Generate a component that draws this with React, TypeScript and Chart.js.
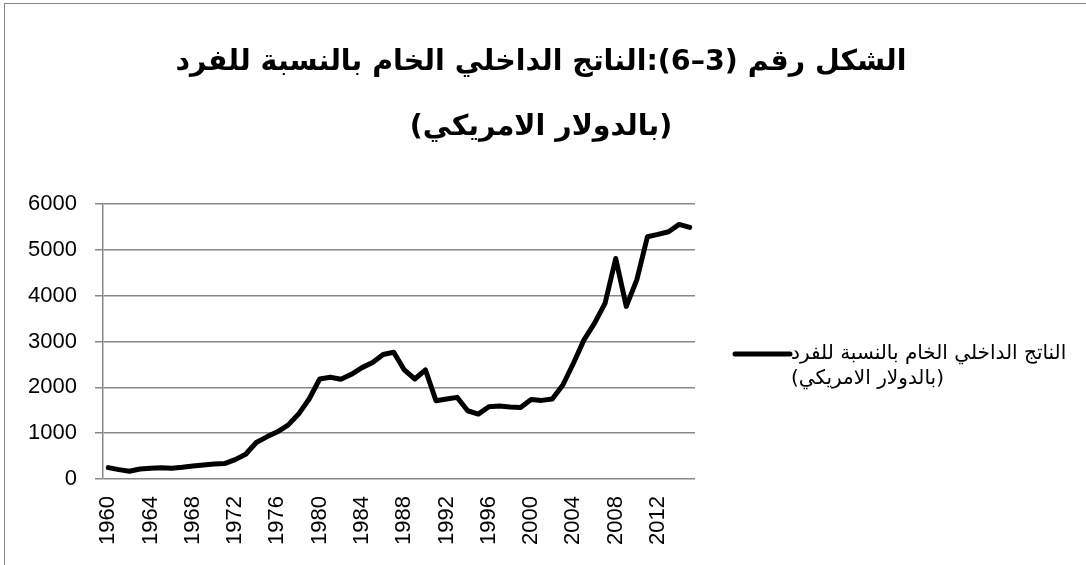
import React, { useEffect, useRef } from "react";
import { Chart, registerables } from "chart.js";

Chart.register(...registerables);

const titleLines: string[] = [
  "الشكل رقم (3–6):الناتج الداخلي الخام بالنسبة للفرد",
  "(بالدولار الامريكي)",
];
const seriesLabelLines: string[] = [
  "الناتج الداخلي الخام بالنسبة للفرد",
  "(بالدولار الامريكي)",
];
const years: string[] = [
  "1960", "1961", "1962", "1963", "1964", "1965", "1966", "1967", "1968", "1969",
  "1970", "1971", "1972", "1973", "1974", "1975", "1976", "1977", "1978", "1979",
  "1980", "1981", "1982", "1983", "1984", "1985", "1986", "1987", "1988", "1989",
  "1990", "1991", "1992", "1993", "1994", "1995", "1996", "1997", "1998", "1999",
  "2000", "2001", "2002", "2003", "2004", "2005", "2006", "2007", "2008", "2009",
  "2010", "2011", "2012", "2013", "2014", "2015",
];
const gdpPerCapita: number[] = [
  248, 204, 168, 219, 234, 248, 234, 255, 285, 307,
  328, 336, 423, 540, 796, 920, 1029, 1175, 1416, 1745,
  2182, 2219, 2175, 2285, 2430, 2540, 2715, 2766, 2380, 2182,
  2380, 1708, 1745, 1781, 1489, 1416, 1577, 1591, 1569, 1562,
  1737, 1715, 1745, 2051, 2526, 3036, 3401, 3839, 4810, 3766,
  4350, 5285, 5336, 5394, 5555, 5489,
];
const yTicks: number[] = [0, 1000, 2000, 3000, 4000, 5000, 6000];
const xLabelEvery = 4;

const titlePlugin = {
  id: "fullTitle",
  afterDraw(chart: any) {
    const ctx = chart.ctx;
    ctx.save();
    ctx.fillStyle = "#000";
    ctx.font = "bold 28.5px 'DejaVu Sans'";
    ctx.textAlign = "center";
    ctx.textBaseline = "middle";
    titleLines.forEach((t, i) => ctx.fillText(t, 541, 63 + i * 65));
    ctx.restore();
  },
};

const legendPlugin = {
  id: "sideLegend",
  afterDraw(chart: any) {
    const ctx = chart.ctx;
    const ds = chart.data.datasets[0];
    const area = chart.chartArea;
    const x0 = area.right + 40;
    const x1 = x0 + 55;
    const y = 354;
    ctx.save();
    ctx.strokeStyle = ds.borderColor;
    ctx.lineWidth = ds.borderWidth;
    ctx.lineCap = "round";
    ctx.beginPath();
    ctx.moveTo(x0, y);
    ctx.lineTo(x1, y);
    ctx.stroke();
    ctx.fillStyle = "#000";
    ctx.font = "20px 'DejaVu Sans'";
    ctx.textAlign = "left";
    ctx.textBaseline = "middle";
    const lines: string[] = ds.labelLines;
    lines.forEach((t, i) => ctx.fillText(t, x1 + 1, y + i * 25));
    ctx.restore();
  },
};

export default function App() {
  const ref = useRef<HTMLCanvasElement | null>(null);
  useEffect(() => {
    if (!ref.current) return;
    const chart = new Chart(ref.current, {
      type: "line",
      data: {
        labels: years,
        datasets: [
          {
            label: seriesLabelLines.join(" "),
            labelLines: seriesLabelLines,
            data: gdpPerCapita,
            borderColor: "#000000",
            borderWidth: 5,
            borderJoinStyle: "round",
            borderCapStyle: "round",
            pointRadius: 0,
            tension: 0,
            fill: false,
          } as any,
        ],
      },
      options: {
        animation: false,
        responsive: false,
        layout: { padding: { left: 0, right: 391, top: 204, bottom: 0 } },
        plugins: {
          legend: { display: false },
          tooltip: { enabled: false },
          title: { display: false },
        },
        scales: {
          x: {
            type: "category",
            offset: true,
            grid: { display: false, drawTicks: false },
            border: { display: false },
            ticks: {
              autoSkip: false,
              maxRotation: 90,
              minRotation: 90,
              padding: 17,
              color: "#000",
              font: { family: "'Liberation Sans'", size: 22 },
              callback: (_v: any, i: number) => (i % xLabelEvery === 0 ? years[i] : ""),
            },
            afterFit: (s: any) => {
              s.height = 86;
            },
          },
          y: {
            min: 0,
            max: 6000,
            afterBuildTicks: (s: any) => {
              s.ticks = yTicks.map((v) => ({ value: v }));
            },
            grid: { color: "#888888", lineWidth: 1.5, tickLength: 8 },
            border: { display: true, color: "#888888", width: 1.5 },
            ticks: {
              padding: 18,
              color: "#000",
              font: { family: "'Liberation Sans'", size: 22 },
              callback: (v: any) => String(v),
            },
            afterFit: (s: any) => {
              s.width = 103;
            },
          },
        },
      },
      plugins: [titlePlugin, legendPlugin],
    });
    return () => chart.destroy();
  }, []);
  return (
    <div style={{ position: "absolute", left: 0, top: 0, width: 1086, height: 565, overflow: "hidden", background: "#fff" }}>
      <div
        style={{
          position: "absolute",
          left: 4,
          top: 3,
          width: 1200,
          height: 700,
          borderLeft: "1px solid #888",
          borderTop: "1px solid #888",
        }}
      />
      <canvas ref={ref} width={1086} height={565} style={{ position: "absolute", left: 0, top: 0 }} />
    </div>
  );
}
